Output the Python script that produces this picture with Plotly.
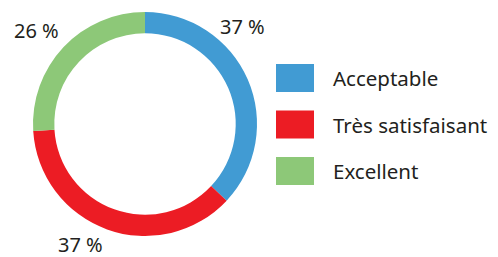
import plotly.graph_objects as go

categories = ["Acceptable", "Très satisfaisant", "Excellent"]
values = [37, 37, 26]
colors = ["#419BD3", "#EC1C24", "#8DC878"]
pct_labels = ["37 %", "37 %", "26 %"]

W, H = 498, 257
FONT = "Noto Sans"
TXT = "#231F20"

def px(x):
    return x / W

def py(y):
    return 1 - y / H

cx, cy, r = 145, 124, 112

fig = go.Figure(go.Pie(
    labels=categories,
    values=values,
    marker=dict(colors=colors, line=dict(width=0)),
    hole=0.81,
    sort=False,
    direction="clockwise",
    rotation=0,
    textinfo="none",
    hoverinfo="label+percent",
    showlegend=False,
    domain=dict(x=[px(cx - r), px(cx + r)], y=[py(cy + r), py(cy - r)]),
))

# percentage labels around ring
label_pos = [(242, 27), (80, 244), (36, 30)]
annotations = []
for (lx, ly), t in zip(label_pos, pct_labels):
    annotations.append(dict(x=px(lx), y=py(ly), xref="paper", yref="paper",
                            text=t, showarrow=False, xanchor="center", yanchor="middle",
                            font=dict(family=FONT, size=20, color=TXT)))

# legend (squares + labels)
shapes = []
for i, (cat, col) in enumerate(zip(categories, colors)):
    yc = 78 + i * 46.5
    shapes.append(dict(type="rect", xref="paper", yref="paper",
                       x0=px(276), x1=px(314), y0=py(yc + 14), y1=py(yc - 14),
                       fillcolor=col, line=dict(width=0)))
    annotations.append(dict(x=px(331), y=py(yc), xref="paper", yref="paper",
                            text=cat, showarrow=False, xanchor="left", yanchor="middle",
                            font=dict(family=FONT, size=20.5, color=TXT)))

fig.update_layout(
    width=W, height=H,
    margin=dict(l=0, r=0, t=0, b=0),
    paper_bgcolor="white", plot_bgcolor="white",
    shapes=shapes, annotations=annotations,
)

fig.write_html("out.html", config={"displayModeBar": False},
               post_script="document.body.style.margin='0px';")
